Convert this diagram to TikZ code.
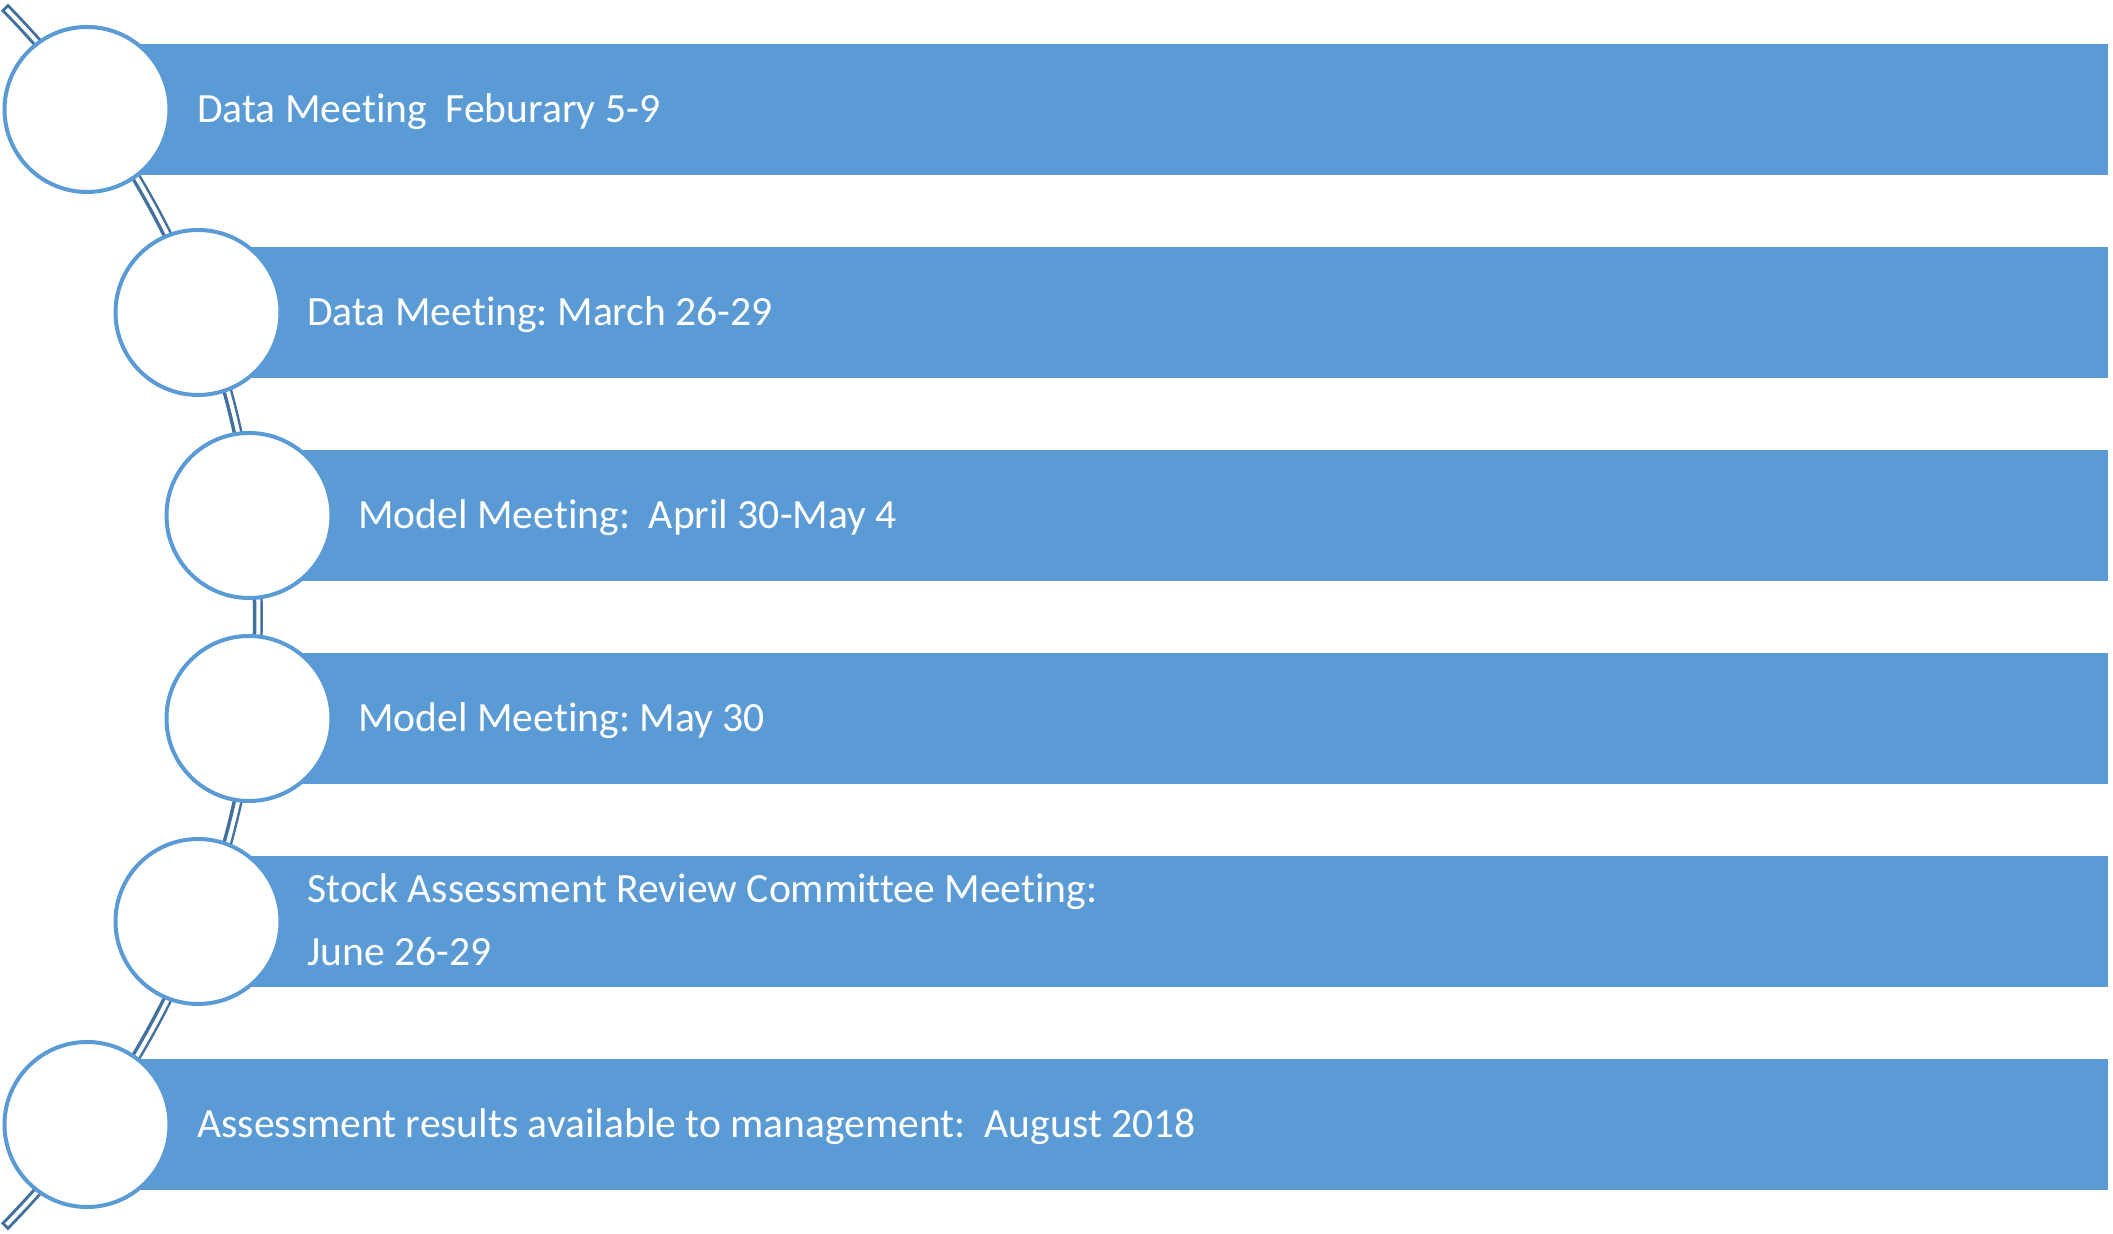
\documentclass[tikz,border=0pt]{standalone}
\usepackage{fontspec}
\setmainfont{Carlito}[Ligatures=NoCommon]
\frenchspacing
\definecolor{barblue}{RGB}{91,155,213}
\definecolor{linkblue}{RGB}{65,113,156}
\begin{document}
\begin{tikzpicture}[x=0.5pt,y=0.5pt,
  bar/.style={fill=barblue},
  dot/.style={circle, fill=white, draw=barblue, line width=2pt, minimum size=82.5pt, inner sep=0pt},
  lbl/.style={anchor=base west, text=white, font=\fontsize{20.8}{25}\selectfont, inner sep=0pt}]
\useasboundingbox (0,0) rectangle (2113,1234);
% connector arc behind the circles
\draw[linkblue, line width=5pt] (-700,617) ++(42.66:958 and 900)
  arc[start angle=42.66, end angle=-42.66, x radius=958, y radius=900];
\draw[white, line width=2pt, shorten <=1.5pt, shorten >=1.5pt] (-700,617) ++(42.66:958 and 900)
  arc[start angle=42.66, end angle=-42.66, x radius=958, y radius=900];
% bars
\fill[bar] (87,1059) rectangle (2108,1190);
\fill[bar] (198,856) rectangle (2108,987);
\fill[bar] (249,653) rectangle (2108,784);
\fill[bar] (249,450) rectangle (2108,581);
\fill[bar] (198,247) rectangle (2108,378);
\fill[bar] (87,44) rectangle (2108,175);
% circles
\node[dot] (c1) at (87,1124.5) {};
\node[dot] (c2) at (198,921.5) {};
\node[dot] (c3) at (249,718.5) {};
\node[dot] (c4) at (249,515.5) {};
\node[dot] (c5) at (198,312.5) {};
\node[dot] (c6) at (87,109.5) {};
% labels
\node[lbl] (t1) at (197,1111.5) {Data Meeting~ Feburary 5-9};
\node[lbl] (t2) at (307,908.5) {Data Meeting: March 26-29};
\node[lbl] (t3) at (358,705.5) {Model Meeting:~ April 30-May 4};
\node[lbl] (t4) at (358,502.5) {Model Meeting: May 30};
\node[lbl] (t5a) at (307,331.5) {Stock Assessment Review Committee Meeting:};
\node[lbl] (t5b) at (307,268.5) {June 26-29};
\node[lbl] (t6) at (197,96.5) {Assessment results available to management:~ August 2018};
\end{tikzpicture}
\end{document}
